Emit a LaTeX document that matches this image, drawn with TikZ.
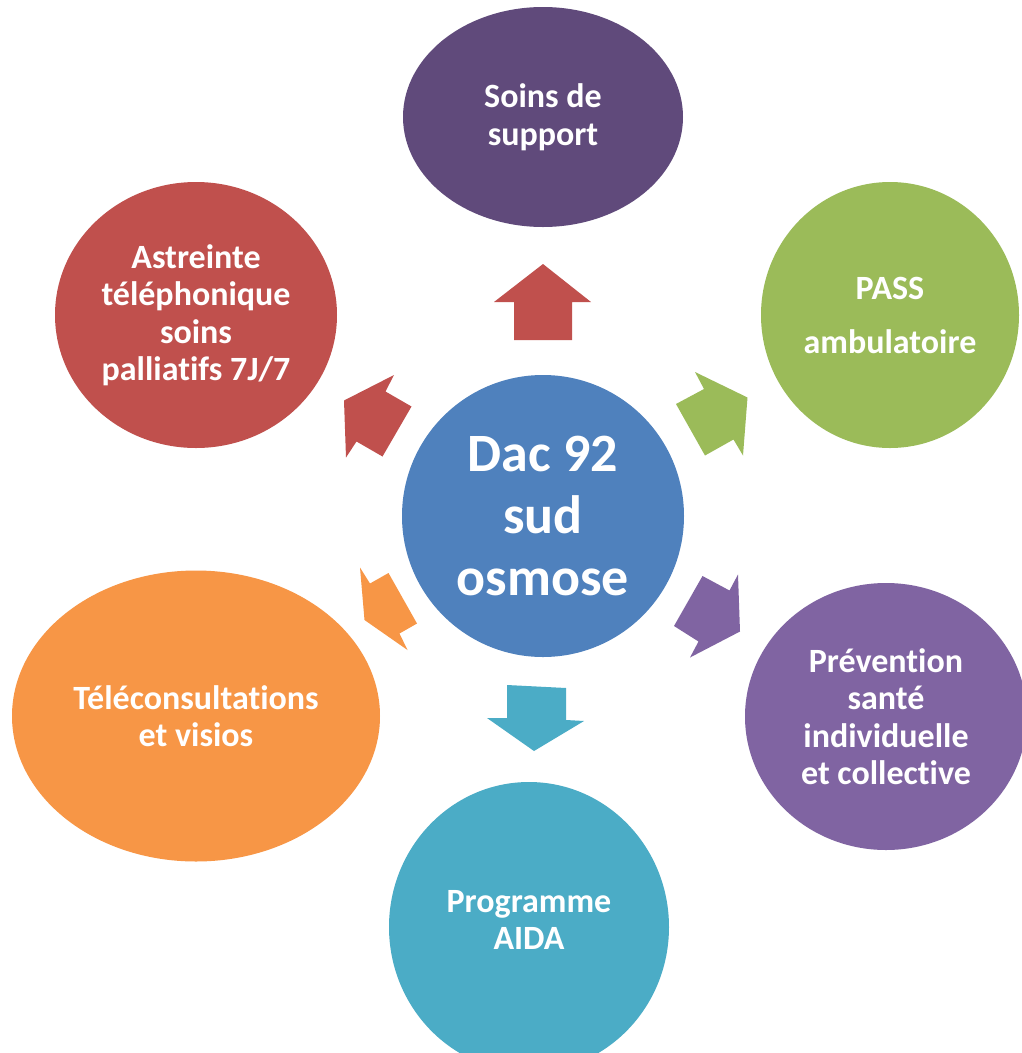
\documentclass[tikz,border=0pt]{standalone}
\usepackage{fontspec}
\setmainfont{Carlito}[Ligatures={TeX,NoCommon}]
\usetikzlibrary{shapes.geometric}

\definecolor{dacblue}{HTML}{4F81BD}
\definecolor{dacred}{HTML}{C0504D}
\definecolor{dacgreen}{HTML}{9BBB59}
\definecolor{dacorange}{HTML}{F79646}
\definecolor{dacviolet}{HTML}{8064A2}
\definecolor{dacplum}{HTML}{604A7B}
\definecolor{dacteal}{HTML}{4BACC6}

\tikzstyle{hub_circle} = [ellipse, minimum width=282pt, minimum height=282pt, inner sep=0pt, fill=dacblue, text=white, align=center, font=\bfseries\fontsize{54}{62}\selectfont]
\tikzstyle{spoke_circle} = [ellipse, inner sep=0pt, text=white, align=center, font=\bfseries\fontsize{34}{37.5}\selectfont]
\tikzstyle{block_arrow} = [draw=none]

\begin{document}
\begin{tikzpicture}[x=1pt, y=-1pt]
        \fill [white] (0,0) rectangle (1022,1053);
        \useasboundingbox (0,0) rectangle (1022,1053);
        \clip (0,0) rectangle (1022,1053);

        \node (hub) [hub_circle] at (543,516) {Dac 92\\sud\\osmose};
        \node (support) [spoke_circle, fill=dacplum, minimum width=280pt, minimum height=220pt] at (543,117) {Soins de\\support};
        \node (pass) [spoke_circle, fill=dacgreen, minimum width=258pt, minimum height=266pt, font=\bfseries\fontsize{34}{54}\selectfont] at (890,315) {PASS\\ambulatoire};
        \node (astreinte) [spoke_circle, fill=dacred, minimum width=282pt, minimum height=266pt] at (196,315) {Astreinte\\téléphonique\\soins\\palliatifs 7J/7};
        \node (teleconsult) [spoke_circle, fill=dacorange, minimum width=368pt, minimum height=291pt] at (196,716) {Téléconsultations\\et visios};
        \node (prevention) [spoke_circle, fill=dacviolet, minimum width=282pt, minimum height=267pt] at (886,716.5) {Prévention\\santé\\individuelle\\et collective};
        \node (aida) [spoke_circle, fill=dacteal, minimum width=280pt, minimum height=290pt, text depth=14pt] at (529,927) {Programme\\AIDA};

        % block arrows round the hub
        \fill [block_arrow, dacred] (543,264) -- (591,302) -- (572,302) -- (572,340) -- (514,340) -- (514,302) -- (494,302) -- cycle;
        \fill [block_arrow, dacgreen] (695,372) -- (704,389) -- (676,404) -- (705,455.5) -- (733.5,439.5) -- (743,455.5) -- (747.5,397.5) -- cycle;
        \fill [block_arrow, dacviolet] (738,574.5) -- (729.5,590.5) -- (702.5,576) -- (674,626) -- (698.5,641.5) -- (690,657.5) -- (740,631.5) -- cycle;
        \fill [block_arrow, dacteal] (507,685) -- (566,688) -- (566,720) -- (584,721) -- (534,751) -- (487,718) -- (507,718) -- cycle;
        \fill [block_arrow, dacorange] (360,567.5) -- (370,583.5) -- (388.5,573) -- (417,623.5) -- (399.5,633.5) -- (407.5,650) -- (364.5,620) -- cycle;
        \fill [block_arrow, dacred] (394,375) -- (385.5,391.5) -- (411.5,406.5) -- (382.5,456.5) -- (356.5,441.5) -- (346,457.5) -- (344,400.5) -- cycle;
    \end{tikzpicture}
\end{document}
